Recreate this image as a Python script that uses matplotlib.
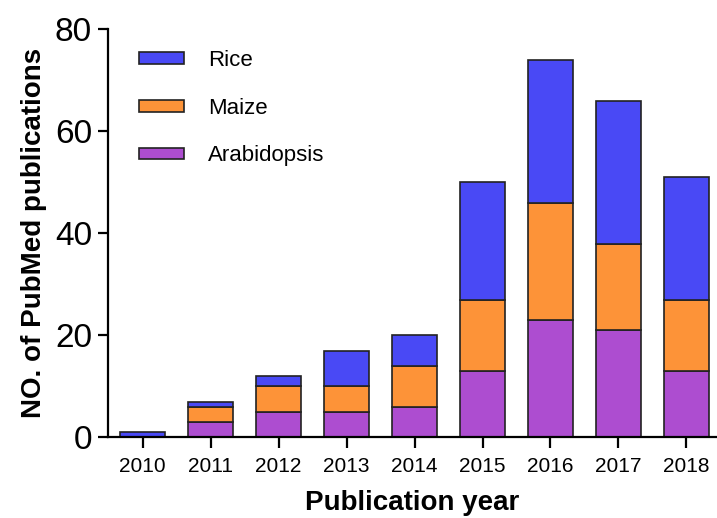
import numpy as np
import matplotlib.pyplot as plt
from matplotlib.patches import Patch

plt.rcParams['font.family'] = ['Liberation Sans', 'DejaVu Sans']

years = ['2010', '2011', '2012', '2013', '2014', '2015', '2016', '2017', '2018']
arabidopsis = [0, 3, 5, 5, 6, 13, 23, 21, 13]
maize = [0, 3, 5, 5, 8, 14, 23, 17, 14]
rice = [1, 1, 2, 7, 6, 23, 28, 28, 24]

c_rice = '#4949f5'
c_maize = '#fd9338'
c_arab = '#ad4dd0'

fig = plt.figure(figsize=(7.17, 5.18), dpi=100)
ax = fig.add_axes([0.1506, 0.1558, 0.8494, 0.7876])

x = np.arange(len(years))
w = 0.67
ax.bar(x, arabidopsis, w, color=c_arab, edgecolor='#222222', linewidth=1.2)
ax.bar(x, maize, w, bottom=arabidopsis, color=c_maize, edgecolor='#222222', linewidth=1.2)
bottom2 = np.array(arabidopsis) + np.array(maize)
ax.bar(x, rice, w, bottom=bottom2, color=c_rice, edgecolor='#222222', linewidth=1.2)

ax.set_xlim(-0.51, 8.45)
ax.set_ylim(0, 80)
ax.set_yticks([0, 20, 40, 60, 80])
ax.set_xticks(x)
ax.set_xticklabels(years)

for s in ['top', 'right']:
    ax.spines[s].set_visible(False)
ax.spines['left'].set_linewidth(1.6)
ax.spines['bottom'].set_linewidth(1.6)
ax.tick_params(axis='y', labelsize=24, width=1.6, length=7.5, pad=4)
ax.tick_params(axis='x', labelsize=15, width=1.6, length=8, pad=6)

ax.set_ylabel('NO. of PubMed publications', fontsize=20, fontweight='bold', labelpad=6)
ax.set_xlabel('Publication year', fontsize=20, fontweight='bold', labelpad=10)

handles = [Patch(facecolor=c_rice, edgecolor='#222222', linewidth=1.2, label='Rice'),
           Patch(facecolor=c_maize, edgecolor='#222222', linewidth=1.2, label='Maize'),
           Patch(facecolor=c_arab, edgecolor='#222222', linewidth=1.2, label='Arabidopsis')]
ax.legend(handles=handles, loc='upper left', bbox_to_anchor=(0.018, 0.998), frameon=False,
          fontsize=16, handlelength=2.05, handleheight=0.42, handletextpad=1.05,
          labelspacing=1.2)

fig.savefig('out.png', dpi=100)
